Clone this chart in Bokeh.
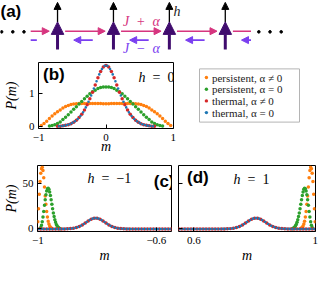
import numpy as np
from bokeh.plotting import figure
from bokeh.models import (Range1d, FixedTicker, Label, Arrow, NormalHead, ColumnDataSource)
from bokeh.layouts import column, row
from bokeh.embed import file_html
from bokeh.resources import INLINE
from bokeh.core.properties import value

ORANGE, GREEN, RED, BLUE = "#ff7f0e", "#2ca02c", "#d62728", "#1f77b4"
PINK, VIOLET, PURPLE = "#d6357f", "#7a3ff0", "#400c6e"
SERIF, SANS = "Liberation Serif", "Liberation Sans"

# ---------------- data: panel (b), h = 0 ----------------
orange_b_m0, orange_b_dm = -0.96, 0.04
orange_b = [0.03, 0.09, 0.16, 0.24, 0.32, 0.39, 0.45, 0.50, 0.56, 0.61, 0.64, 0.665,
            0.68, 0.69, 0.695, 0.70, 0.70, 0.70, 0.70, 0.70, 0.70, 0.70, 0.695, 0.69,
            0.69,
            0.69, 0.695, 0.70, 0.70, 0.70, 0.70, 0.70, 0.70, 0.70, 0.695, 0.69, 0.68,
            0.665, 0.64, 0.61, 0.56, 0.50, 0.45, 0.39, 0.32, 0.24, 0.16, 0.09, 0.03]
green_b_m0, green_b_dm = -0.84, 0.04
green_b = [0.015, 0.03, 0.055, 0.09, 0.14, 0.21, 0.28, 0.36, 0.44, 0.52, 0.60, 0.68,
           0.76, 0.84, 0.92, 0.99, 1.05, 1.10, 1.15, 1.18, 1.195,
           1.20,
           1.195, 1.18, 1.15, 1.10, 1.05, 0.99, 0.92, 0.84, 0.76, 0.68, 0.60, 0.52,
           0.44, 0.36, 0.28, 0.21, 0.14, 0.09, 0.055, 0.03, 0.015]
red_b_m0, red_b_dm = -0.72, 0.04
red_b = [0.005, 0.01, 0.02, 0.035, 0.055, 0.085, 0.13, 0.19, 0.27, 0.37, 0.50, 0.66,
         0.84, 1.04, 1.26, 1.48, 1.67, 1.80,
         1.85,
         1.80, 1.67, 1.48, 1.26, 1.04, 0.84, 0.66, 0.50, 0.37, 0.27, 0.19, 0.13, 0.085,
         0.055, 0.035, 0.02, 0.01, 0.005]
blue_b_m0, blue_b_dm = -0.70, 0.04
blue_b = [0.008, 0.015, 0.027, 0.045, 0.07, 0.11, 0.16, 0.23, 0.32, 0.43, 0.58, 0.75,
          0.94, 1.15, 1.37, 1.58, 1.74, 1.84,
          1.84, 1.74, 1.58, 1.37, 1.15, 0.94, 0.75, 0.58, 0.43, 0.32, 0.23, 0.16, 0.11,
          0.07, 0.045, 0.027, 0.015, 0.008]

# ---------------- data: panel (c), h = -1 ----------------
orange_c_m0, orange_c_dm = -1.0, 0.0025
orange_c = [8, 22, 38, 52, 61, 66, 67.5, 64, 56, 46, 36, 27, 19, 13, 8.5, 5.3, 3.2,
            1.9, 1.0, 0.5]
green_c_m0, green_c_dm = -0.99, 0.0025
green_c = [1.5, 4, 8, 13, 19, 26, 32, 37.5, 41.5, 44, 44.7, 43.5, 40.5, 36.5, 32, 27,
           22, 17.5, 13.5, 10, 7.2, 5, 3.4, 2.2, 1.3, 0.7, 0.3]
red_c_m0, red_c_dm = -1.0, 0.01
red_c = [0, 0, 0, 0, 0, 0, 0, 0, 0.01, 0.05, 0.14, 0.35, 0.76, 1.5, 2.7, 4.4, 6.5, 8.7,
         10.6, 11.65, 11.6, 10.55, 8.7, 6.5, 4.4, 2.7, 1.5, 0.76, 0.35, 0.14, 0.05,
         0.015, 0, 0, 0, 0, 0, 0, 0, 0, 0, 0, 0, 0, 0, 0]
blue_c_m0, blue_c_dm = -0.995, 0.01
blue_c = [0, 0, 0, 0, 0, 0, 0, 0.01, 0.03, 0.09, 0.22, 0.52, 1.1, 2.0, 3.5, 5.4, 7.6,
          9.7, 11.25, 11.8, 11.25, 9.7, 7.6, 5.4, 3.5, 2.0, 1.1, 0.52, 0.22, 0.09, 0.03,
          0.01, 0, 0, 0, 0, 0, 0, 0, 0, 0, 0, 0, 0, 0]

# ---------------- data: panel (d), h = 1 ----------------
orange_d_m0, orange_d_dm = 0.9525, 0.0025
orange_d = [0.5, 1.0, 1.9, 3.2, 5.3, 8.5, 13, 19, 27, 36, 46, 56, 64, 67.5, 66, 61, 52,
            38, 22, 8]
green_d_m0, green_d_dm = 0.925, 0.0025
green_d = [0.3, 0.7, 1.3, 2.2, 3.4, 5, 7.2, 10, 13.5, 17.5, 22, 27, 32, 36.5, 40.5,
           43.5, 44.7, 44, 41.5, 37.5, 32, 26, 19, 13, 8, 4, 1.5]
red_d_m0, red_d_dm = 0.55, 0.01
red_d = [0, 0, 0, 0, 0, 0, 0, 0, 0, 0, 0, 0, 0, 0, 0.015, 0.05, 0.14, 0.35, 0.76, 1.5,
         2.7, 4.4, 6.5, 8.7, 10.6, 11.65, 11.6, 10.55, 8.7, 6.5, 4.4, 2.7, 1.5, 0.76,
         0.35, 0.14, 0.05, 0.01, 0, 0, 0, 0, 0, 0, 0, 0]
blue_d_m0, blue_d_dm = 0.555, 0.01
blue_d = [0, 0, 0, 0, 0, 0, 0, 0, 0, 0, 0, 0, 0, 0.01, 0.03, 0.09, 0.22, 0.52, 1.1,
          2.0, 3.5, 5.4, 7.6, 9.7, 11.25, 11.8, 11.25, 9.7, 7.6, 5.4, 3.5, 2.0, 1.1,
          0.52, 0.22, 0.09, 0.03, 0.01, 0, 0, 0, 0, 0, 0, 0]

legend_labels = ["persistent, α ≠ 0", "persistent, α = 0", "thermal, α ≠ 0", "thermal, α = 0"]
series_colors = [ORANGE, GREEN, RED, BLUE]

# ---------------- panel (a): chain diagram (lattice units) ----------------
sites = [0, 1, 2, 3]
bond_left_sites = [-1, 0, 1, 2, 3]
ellipsis_x = [-1.0, -0.8, -0.6, 3.6, 3.8, 4.0]


def grid(m0, dm, vals):
    return [round(m0 + dm * i, 5) for i in range(len(vals))]


def no_align(p):
    if "frame_align" in p.properties():
        p.frame_align = False
    return p


def make_panel(width, height, xr, yr, borders):
    p = figure(width=width, height=height, x_range=Range1d(*xr), y_range=Range1d(*yr),
               toolbar_location=None, output_backend="svg",
               min_border_left=borders[0], min_border_right=borders[1],
               min_border_top=borders[2], min_border_bottom=borders[3])
    no_align(p)
    p.grid.visible = False
    p.outline_line_color = "black"
    p.outline_line_width = 1
    p.background_fill_color = "white"
    p.border_fill_color = "white"
    for ax in p.axis:
        ax.axis_line_color = None
        ax.major_tick_in = 4
        ax.major_tick_out = 0
        ax.major_tick_line_color = "black"
        ax.minor_tick_line_color = None
        ax.major_label_text_font = SERIF
        ax.major_label_text_font_size = "11px"
        ax.major_label_text_color = "black"
        ax.axis_label_text_font = SERIF
        ax.axis_label_text_font_style = "italic"
        ax.axis_label_text_font_size = "14px"
        ax.axis_label_text_color = "black"
    p.xaxis.major_label_standoff = 5
    p.yaxis.major_label_standoff = 4
    return p


def add_series(p, specs, sizes):
    for (m0, dm, vals), c, s in zip(specs, series_colors, sizes):
        p.scatter(grid(m0, dm, vals), vals, size=s, fill_color=c, line_color=None)


def add_text(p, x, y, text, size, style="normal", font=SERIF, align="left",
             baseline="middle", color="black"):
    p.add_layout(Label(x=x, y=y, x_units="screen", y_units="screen", text=text,
                       text_font=font, text_font_size=size, text_font_style=style,
                       text_align=align, text_baseline=baseline, text_color=color))


# ---------------- panel (a) ----------------
fig_a = figure(width=319, height=57, x_range=Range1d(-1.02, 4.685), y_range=Range1d(60, 0),
               x_axis_location=None, y_axis_location=None, toolbar_location=None,
               output_backend="svg", min_border=0, outline_line_color=None)
no_align(fig_a)
fig_a.grid.visible = False

CLIP = (-0.48, 3.46)
Y_PINK, Y_VIOLET = 32.3, 41.7


def bond_arrows(tails, tips):
    head = dict(x0=[], x1=[])
    bare = dict(x0=[], x1=[])
    for t, h in zip(tails, tips):
        a = min(max(t, CLIP[0]), CLIP[1])
        b = min(max(h, CLIP[0]), CLIP[1])
        if abs(a - b) < 1e-9:
            continue
        if CLIP[0] < h < CLIP[1]:
            head["x0"].append(a); head["x1"].append(h)
        else:
            bare["x0"].append(a); bare["x1"].append(b)
    return head, bare


for tails, tips, yy, col in [
        ([i + 0.136 for i in bond_left_sites], [i + 0.852 for i in bond_left_sites], Y_PINK, PINK),
        ([i + 0.63 for i in bond_left_sites], [i + 0.29 for i in bond_left_sites], Y_VIOLET, VIOLET)]:
    head, bare = bond_arrows(tails, tips)
    head["y"] = [yy] * len(head["x0"])
    bare["y"] = [yy] * len(bare["x0"])
    fig_a.add_layout(Arrow(source=ColumnDataSource(head), x_start="x0", y_start="y",
                           x_end="x1", y_end="y", line_color=col, line_width=1.6,
                           end=NormalHead(size=7, fill_color=col, line_color=col, line_width=1)))
    fig_a.segment(x0="x0", y0="y", x1="x1", y1="y", source=ColumnDataSource(bare),
                  line_color=col, line_width=1.6)

spin_src = ColumnDataSource(dict(x=sites, y0=[51.7] * len(sites), y1=[22.5] * len(sites),
                                 f1=[2.0] * len(sites)))
fig_a.add_layout(Arrow(source=spin_src, x_start="x", y_start="y1", x_end="x", y_end="f1",
                       line_color="black", line_width=1.3,
                       end=NormalHead(size=7, fill_color="black", line_color="black", line_width=1)))
fig_a.add_layout(Arrow(source=spin_src, x_start="x", y_start="y0", x_end="x", y_end="y1",
                       line_color=PURPLE, line_width=3,
                       end=NormalHead(size=12.5, fill_color=PURPLE, line_color=PURPLE, line_width=1)))
fig_a.scatter(ellipsis_x, [33] * len(ellipsis_x), size=2.6, color="black")

fig_a.add_layout(Label(x=1.5, y=22.5, text="J\u2002+\u2002α", text_font=SERIF,
                       text_font_style="italic", text_font_size="14px", text_color=PINK,
                       text_align="center", text_baseline="middle"))
fig_a.add_layout(Label(x=1.5, y=50.5, text="J\u2002\u2212\u2002α", text_font=SERIF,
                       text_font_style="italic", text_font_size="14px", text_color=VIOLET,
                       text_align="center", text_baseline="middle"))
fig_a.add_layout(Label(x=2.075, y=12.0, text="h", text_font=SERIF,
                       text_font_style="italic", text_font_size="14px", text_color="#222222",
                       text_align="left", text_baseline="middle"))
add_text(fig_a, 0, 56, "(a)", "17px", style="bold", font=SANS, baseline="top")

# ---------------- panel (b) ----------------
fig_b = make_panel(177, 99, (-1.002, 1.002), (-0.06, 1.94), (32, 4, 5, 28))
fig_b.xaxis.ticker = FixedTicker(ticks=[-1, 0, 1])
fig_b.xaxis.major_label_overrides = {-1: "\u22121", 0: "0", 1: "1"}
fig_b.yaxis.ticker = FixedTicker(ticks=[0, 1])
fig_b.xaxis.axis_label = "m"
fig_b.yaxis.axis_label = "P(m)"
fig_b.xaxis.axis_label_standoff = -5
fig_b.yaxis.axis_label_standoff = 7
add_series(fig_b, [(orange_b_m0, orange_b_dm, orange_b), (green_b_m0, green_b_dm, green_b),
                   (red_b_m0, red_b_dm, red_b), (blue_b_m0, blue_b_dm, blue_b)],
           [3.5, 3.5, 3.5, 2.6])
add_text(fig_b, 4.5, 63.4, "(b)", "17px", style="bold", font=SANS, baseline="top")
add_text(fig_b, 107, 51, "h", "14px", style="italic", align="right")
add_text(fig_b, 107, 51, "\u2002=\u20020", "14px")

# ---------------- legend (own small panel; frame = 134 x 66 px, pixel units) ----------------
fig_leg = figure(width=142, height=99, x_range=Range1d(0, 134), y_range=Range1d(0, 66),
                 x_axis_location=None, y_axis_location=None, toolbar_location=None,
                 output_backend="svg", min_border_left=4, min_border_right=4,
                 min_border_top=5, min_border_bottom=28, outline_line_color=None)
no_align(fig_leg)
fig_leg.grid.visible = False
FRAME_H = 66
LEG_LEFT, LEG_RIGHT, LEG_TOP, LEG_BOTTOM = 18, 118, 6.4, 59.6   # from frame top-left
ROW0, ROW_STEP, DOT_X, TEXT_X = 15.0, 11.7, 24.9, 30.4
rows_y = [FRAME_H - (ROW0 + ROW_STEP * i) for i in range(len(legend_labels))]
fig_leg.quad(left=[LEG_LEFT], right=[LEG_RIGHT], top=[FRAME_H - LEG_TOP],
             bottom=[FRAME_H - LEG_BOTTOM], fill_color="white", line_color="#b4b4b4",
             line_width=1)
fig_leg.scatter([DOT_X] * len(rows_y), rows_y, size=3.4, fill_color=series_colors,
                line_color=None)
fig_leg.text([TEXT_X] * len(rows_y), rows_y, text=legend_labels, text_font=value(SERIF),
             text_font_size="11px", text_color="#222222", text_baseline="middle",
             text_align="left")

# ---------------- panel (c) ----------------
fig_c = make_panel(174, 109, (-1.001, -0.549), (-2.8, 69.5), (32, 3, 9, 34))
fig_c.xaxis.ticker = FixedTicker(ticks=[-1, -0.6])
fig_c.xaxis.major_label_overrides = {-1: "\u22121", -0.6: "\u22120.6"}
fig_c.yaxis.ticker = FixedTicker(ticks=[0, 50])
fig_c.xaxis.axis_label = "m"
fig_c.yaxis.axis_label = "P(m)"
fig_c.xaxis.axis_label_standoff = 1
fig_c.yaxis.axis_label_standoff = 1
add_series(fig_c, [(orange_c_m0, orange_c_dm, orange_c), (green_c_m0, green_c_dm, green_c),
                   (red_c_m0, red_c_dm, red_c), (blue_c_m0, blue_c_dm, blue_c)],
           [3.5, 3.5, 3.5, 2.6])
add_text(fig_c, 137, 60, "(c)", "17px", style="bold", font=SANS, align="right", baseline="top")
add_text(fig_c, 57, 52.8, "h", "14px", style="italic", align="right")
add_text(fig_c, 57, 52.8, "\u2002=\u2002\u22121", "14px")

# ---------------- panel (d) ----------------
fig_d = make_panel(145, 109, (0.549, 1.001), (-2.8, 69.5), (4, 4, 9, 34))
fig_d.xaxis.ticker = FixedTicker(ticks=[0.6, 1])
fig_d.xaxis.major_label_overrides = {0.6: "0.6", 1: "1"}
fig_d.yaxis.ticker = FixedTicker(ticks=[0, 50])
fig_d.yaxis.major_label_overrides = {0: "", 50: ""}
fig_d.yaxis.major_label_standoff = 0
fig_d.xaxis.axis_label = "m"
fig_d.xaxis.axis_label_standoff = 1
add_series(fig_d, [(orange_d_m0, orange_d_dm, orange_d), (green_d_m0, green_d_dm, green_d),
                   (red_d_m0, red_d_dm, red_d), (blue_d_m0, blue_d_dm, blue_d)],
           [3.5, 3.5, 3.5, 2.6])
add_text(fig_d, 8.5, 63.9, "(d)", "17px", style="bold", font=SANS, baseline="top")
add_text(fig_d, 62, 52.5, "h", "14px", style="italic", align="right")
add_text(fig_d, 62, 52.5, "\u2002=\u20021", "14px")

layout = column(fig_a, row(fig_b, fig_leg), row(fig_c, fig_d))
open("out.html", "w").write(file_html(layout, INLINE))
